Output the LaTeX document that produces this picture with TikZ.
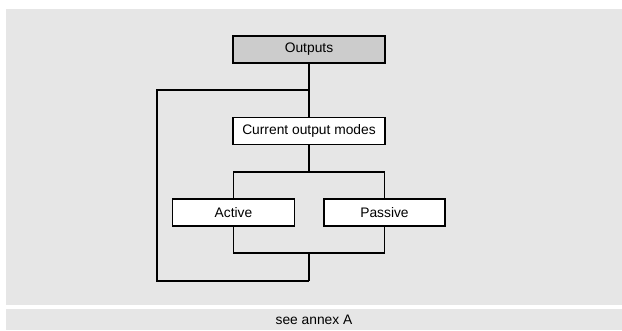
\documentclass[tikz,border=0pt]{standalone}
\usepackage{fontspec}
\setmainfont{Liberation Sans}
\definecolor{panel}{HTML}{E6E6E6}
\definecolor{head}{HTML}{CCCCCC}
\begin{document}
\begin{tikzpicture}[x=1pt,y=-1pt,
  box/.style={draw=black,line width=1.5pt,fill=white,minimum height=27pt,inner sep=0pt,font=\fontsize{13.8}{16}\selectfont},
  wire/.style={draw=black,line width=1.5pt}]
\useasboundingbox (0,0) rectangle (622,331);
\fill[white] (0,0) rectangle (622,331);
\fill[panel] (6,9) rectangle (622,305.5);
\fill[panel] (6,309) rectangle (622,330);
\node[font=\fontsize{13.8}{16}\selectfont] (foot) at (314,319.5) {see annex A};
\node[box,fill=head,minimum width=152pt] (out) at (309,49.5) {Outputs};
\node[box,minimum width=152pt] (cur) at (309,131) {Current output modes};
\node[box,minimum width=122pt] (act) at (233.5,212.5) {Active};
\node[box,minimum width=121pt] (pas) at (384.5,212.5) {Passive};
\coordinate (j1) at (309,90);
\coordinate (j2) at (309,172);
\coordinate (j3) at (309,253);
\coordinate (j4) at (309,281);
\draw[wire] (out.south) -- (cur.north);
\draw[wire] (j1) -| (157,281) -- (j4);
\draw[wire] (cur.south) -- (j2);
\draw[wire] (act.north) |- (j2) -| (pas.north);
\draw[wire] (act.south) |- (j3) -| (pas.south);
\draw[wire] (j3) -- (j4);
\end{tikzpicture}
\end{document}
